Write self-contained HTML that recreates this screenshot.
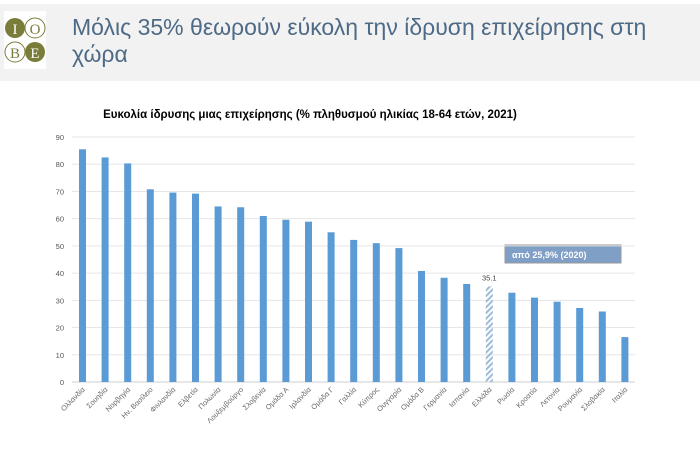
<!DOCTYPE html>
<html><head><meta charset="utf-8"><style>
body{margin:0;width:700px;height:457px;background:#fff;overflow:hidden;font-family:"Liberation Sans","DejaVu Sans",sans-serif}
</style></head><body>
<svg width="700" height="457" xmlns="http://www.w3.org/2000/svg" font-family="Liberation Sans, DejaVu Sans, sans-serif">
<defs><pattern id="h" width="4" height="4" patternUnits="userSpaceOnUse" patternTransform="rotate(45)"><rect width="2" height="4" fill="#9dbbd9"/></pattern></defs>
<rect x="0" y="4" width="700" height="77" fill="#f2f2f2"/>
<rect x="4" y="11" width="42" height="58" fill="#fff"/>
<circle cx="15" cy="28" r="10" fill="#7a7d3a"/><text x="15" y="34" font-size="15" fill="#fff" text-anchor="middle" font-family="Liberation Serif, serif">I</text>
<circle cx="35" cy="28" r="10" fill="#fff" stroke="#7a7d3a"/><text x="35" y="34" font-size="15" fill="#7a7d3a" text-anchor="middle" font-family="Liberation Serif, serif">O</text>
<circle cx="15" cy="52" r="10" fill="#fff" stroke="#7a7d3a"/><text x="15" y="58" font-size="15" fill="#7a7d3a" text-anchor="middle" font-family="Liberation Serif, serif">B</text>
<circle cx="35" cy="52" r="10" fill="#7a7d3a"/><text x="35" y="58" font-size="15" fill="#fff" text-anchor="middle" font-family="Liberation Serif, serif">E</text>
<text x="72" y="35" font-size="23" fill="#4d6a86">Μόλις 35% θεωρούν εύκολη την ίδρυση επιχείρησης στη</text>
<text x="72" y="62" font-size="23" fill="#4d6a86">χώρα</text>
<text x="310" y="118" font-size="11.5" font-weight="bold" text-anchor="middle" fill="#000">Ευκολία ίδρυσης μιας επιχείρησης (% πληθυσμού ηλικίας 18-64 ετών, 2021)</text>
<rect x="505" y="245" width="116" height="18" fill="#7f9fc6" stroke="#999"/>
<text x="512" y="258" font-size="9" font-weight="bold" fill="#fff">από 25,9% (2020)</text>
</svg>
<script>
var v=[85.5,82.5,80.3,70.8,69.6,69.2,64.5,64.2,61,59.6,58.9,55,52.2,51,49.2,40.8,38.3,36,35.1,32.8,31,29.5,27.2,25.9,16.5];
var n=["Ολλανδία","Σουηδία","Νορβηγία","Ην. Βασίλειο","Φινλανδία","Ελβετία","Πολωνία","Λουξεμβούργο","Σλοβενία","Ομάδα Α","Ιρλανδία","Ομάδα Γ","Γαλλία","Κύπρος","Ουγγαρία","Ομάδα Β","Γερμανία","Ισπανία","Ελλάδα","Ρωσία","Κροατία","Λετονία","Ρουμανία","Σλοβακία","Ιταλία"];
var s=document.querySelector('svg'),h="";
var y0=382,k=2.722;
for(var t=0;t<=90;t+=10){var y=y0-t*k;h+='<line x1="72" x2="635" y1="'+y+'" y2="'+y+'" stroke="'+(t?'#e6e6e6':'#cfcfcf')+'"/><text x="64" y="'+(y+3)+'" font-size="7.5" fill="#555" text-anchor="end">'+t+'</text>';}
for(var i=0;i<25;i++){var x=82.5+i*22.6,bh=v[i]*k;
h+='<rect x="'+(x-3.5)+'" y="'+(y0-bh)+'" width="7" height="'+bh+'" fill="'+(i==18?'url(#h)':'#5b9bd5')+'"/>';
h+='<text transform="translate('+(x+3)+',390) rotate(-45)" font-size="7.3" fill="#666" text-anchor="end">'+n[i]+'</text>';}
h+='<text x="'+(82.5+18*22.6)+'" y="'+(y0-35.1*k-6)+'" font-size="7.5" fill="#444" text-anchor="middle">35.1</text>';
s.insertAdjacentHTML('beforeend',h);
</script>
</body></html>
